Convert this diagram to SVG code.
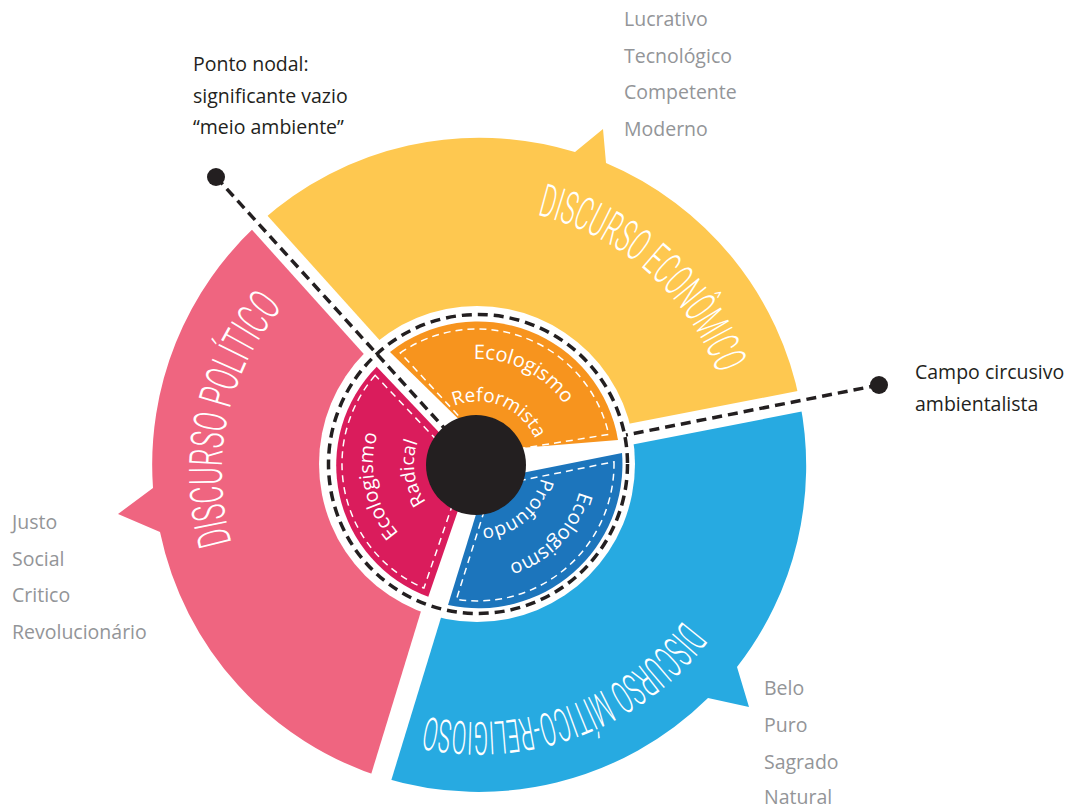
<svg xmlns="http://www.w3.org/2000/svg" width="1069" height="808" viewBox="0 0 1069 808">
<style>
.lbl{font-family:"Open Sans","Liberation Sans",sans-serif;font-size:19.5px;fill:#231F20}
.gray{font-family:"Open Sans","Liberation Sans",sans-serif;font-size:19.5px;fill:#939598}
.disc{font-family:Roboto,"DejaVu Sans",sans-serif;font-size:46px;font-weight:300;fill:#fff}
.inner{font-family:"Open Sans","Liberation Sans",sans-serif;fill:#fff}
.gap{stroke:#fff;stroke-width:21;fill:none}
.dash{stroke:#231F20;stroke-width:3.5;fill:none;stroke-dasharray:10 6}
.idash{stroke:#fff;stroke-width:1.5;fill:none;stroke-dasharray:7 5}
.dot{fill:#231F20}
</style>
<defs>
<path id="tY" d="M 537.3,215 A 256 256 0 0 1 730.1,419.5"/>
<path id="tP" d="M 231.7,542.6 A 254 254 0 0 1 312.7,277.4"/>
<path id="tB" d="M 683,620.7 A 258 258 0 0 1 389.8,706.4"/>
<path id="iO1" d="M 388.5,409.1 A 105 105 0 0 1 575.7,502.5"/>
<path id="iO2" d="M 421.9,435.4 A 63 63 0 0 1 538.2,482.4"/>
<path id="iM1" d="M 491.2,568.2 A 105 105 0 0 1 447,363.7"/>
<path id="iM2" d="M 481.3,527.9 A 64 64 0 0 1 463.6,401.6"/>
<path id="iB1" d="M 557.2,395.1 A 105 105 0 0 1 411.9,545.6"/>
<path id="iB2" d="M 530.1,426.8 A 64 64 0 0 1 433.1,509.7"/>
</defs>
<rect width="1069" height="808" fill="#fff"/>

<g id="outer-economico">
<path fill="#FEC850" d="M 479,465 L 260.2,222 A 327 327 0 0 1 575,152 L 603,129 L 606,163 A 327 327 0 0 1 800,402.6 Z"/>
</g>
<g id="outer-politico">
<path fill="#EF6580" d="M 479,465 L 383.4,777.7 A 327 327 0 0 1 160,532 L 118,514 L 153,488 A 327 327 0 0 1 260.2,222 Z"/>
</g>
<g id="outer-mitico">
<path fill="#27AAE1" d="M 479,465 L 800,402.6 A 327 327 0 0 1 737,667 L 749,707 L 708,698 A 327 327 0 0 1 383.4,777.7 Z"/>
</g>
<g id="gaps">
<line class="gap" x1="477" y1="464" x2="236.1" y2="196.5"/>
<line class="gap" x1="477" y1="464" x2="830.4" y2="395.3"/>
<line class="gap" x1="477" y1="464" x2="371.7" y2="808.3"/>
<circle cx="477" cy="464" r="158" fill="#fff"/>
<circle class="dash" cx="478" cy="464" r="149.5" stroke-dasharray="9 6"/>
</g>

<g id="inner-reformista">
<path fill="#F7941E" d="M 390,352 A 142 142 0 0 1 618,440 L 490.7,450.5 Z"/>
<path class="idash" d="M 400.3,352.9 A 135 135 0 0 1 608.7,434.4 L 493,453 Z"/>
</g>
<g id="inner-radical">
<path fill="#DA1C5C" d="M 376.7,366.7 A 140 140 0 0 0 428.3,596.7 L 472.7,467.8 Z"/>
<path class="idash" d="M 375.2,375.3 A 135 135 0 0 0 423.9,588.1 L 464.6,469.4 Z"/>
</g>
<g id="inner-profundo">
<path fill="#1C75BC" d="M 622,453 A 144 144 0 0 1 448,605 L 486.6,480.1 Z"/>
<path class="idash" d="M 614,461.8 A 137 137 0 0 1 456.4,599.4 L 492,486.2 Z"/>
</g>

<g id="connectors">
<line class="dash" x1="216" y1="177" x2="446" y2="430"/>
<line class="dash" x1="879" y1="385" x2="626" y2="435"/>
</g>

<g id="center">
<circle cx="476" cy="465" r="50" fill="#231F20"/>
</g>

<g id="node-ponto-nodal">
<circle class="dot" cx="216" cy="177" r="9"/>
<text class="lbl" x="193" y="71">Ponto nodal:</text>
<text class="lbl" x="193" y="103">significante vazio</text>
<text class="lbl" x="193" y="134">“meio ambiente”</text>
</g>
<g id="node-campo">
<circle class="dot" cx="879" cy="385" r="9"/>
<text class="lbl" x="915" y="379">Campo circusivo</text>
<text class="lbl" x="915" y="411">ambientalista</text>
</g>

<g id="labels-outer">
<text class="disc"><textPath href="#tY" textLength="250" lengthAdjust="spacingAndGlyphs">DISCURSO ECONÔMICO</textPath></text>
<text class="disc"><textPath href="#tP" textLength="251" lengthAdjust="spacingAndGlyphs">DISCURSO POLÍTICO</textPath></text>
<text class="disc"><textPath href="#tB" textLength="289" lengthAdjust="spacingAndGlyphs">DISCURSO MÍTICO-RELIGIOSO</textPath></text>
</g>

<g id="labels-inner">
<text class="inner" font-size="20" text-anchor="middle"><textPath href="#iO1" startOffset="50%">Ecologismo</textPath></text>
<text class="inner" font-size="19" text-anchor="middle"><textPath href="#iO2" startOffset="50%">Reformista</textPath></text>
<text class="inner" font-size="20" text-anchor="middle"><textPath href="#iM1" startOffset="50%">Ecologismo</textPath></text>
<text class="inner" font-size="19" text-anchor="middle"><textPath href="#iM2" startOffset="50%">Radical</textPath></text>
<text class="inner" font-size="20" text-anchor="middle"><textPath href="#iB1" startOffset="50%">Ecologismo</textPath></text>
<text class="inner" font-size="19" text-anchor="middle"><textPath href="#iB2" startOffset="50%">Profundo</textPath></text>
</g>

<g id="list-economico">
<text class="gray" x="624" y="26">Lucrativo</text>
<text class="gray" x="624" y="63">Tecnológico</text>
<text class="gray" x="624" y="99">Competente</text>
<text class="gray" x="624" y="136">Moderno</text>
</g>
<g id="list-politico">
<text class="gray" x="12" y="529">Justo</text>
<text class="gray" x="12" y="566">Social</text>
<text class="gray" x="12" y="602">Critico</text>
<text class="gray" x="12" y="639">Revolucionário</text>
</g>
<g id="list-mitico">
<text class="gray" x="764" y="695">Belo</text>
<text class="gray" x="764" y="732">Puro</text>
<text class="gray" x="764" y="769">Sagrado</text>
<text class="gray" x="764" y="804">Natural</text>
</g>
</svg>
